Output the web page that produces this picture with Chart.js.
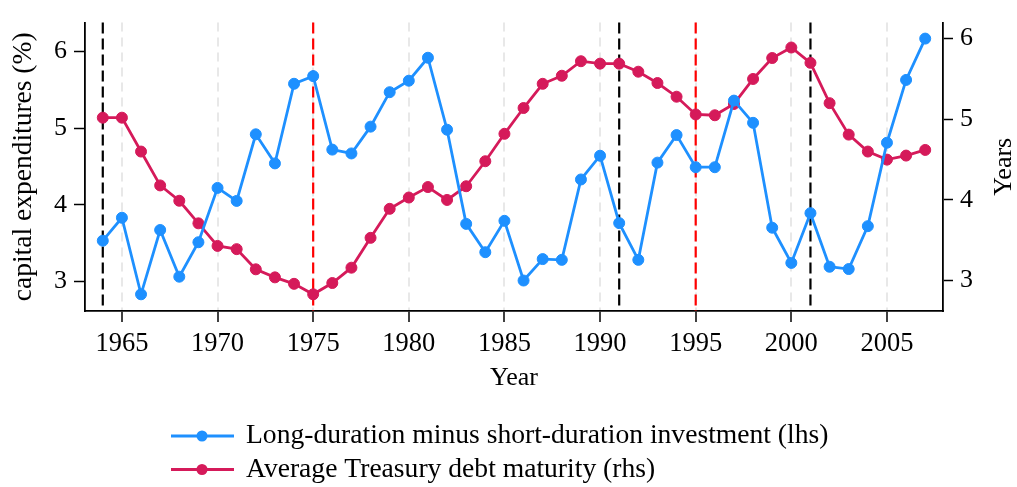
<!DOCTYPE html>
<html>
<head>
<meta charset="utf-8">
<title>Investment and Treasury debt maturity</title>
<script src="https://cdn.jsdelivr.net/npm/chart.js@4.4.1/dist/chart.umd.min.js"></script>
<style>
  html, body { margin: 0; padding: 0; background: #ffffff; }
  #wrap { width: 1017px; height: 487px; }
</style>
</head>
<body>
<div id="wrap"><canvas id="chart" width="1017" height="487"></canvas></div>
<script>
// Data
const years = [1964, 1965, 1966, 1967, 1968, 1969, 1970, 1971, 1972, 1973, 1974, 1975,
  1976, 1977, 1978, 1979, 1980, 1981, 1982, 1983, 1984, 1985, 1986, 1987, 1988, 1989,
  1990, 1991, 1992, 1993, 1994, 1995, 1996, 1997, 1998, 1999, 2000, 2001, 2002, 2003,
  2004, 2005, 2006, 2007];

const investGap = [3.53, 3.83, 2.83, 3.67, 3.06, 3.51, 4.22, 4.05, 4.92, 4.54, 5.58, 5.68,
  4.72, 4.67, 5.02, 5.47, 5.62, 5.92, 4.98, 3.75, 3.38, 3.79, 3.01, 3.29, 3.28, 4.33,
  4.64, 3.76, 3.28, 4.55, 4.91, 4.49, 4.49, 5.36, 5.07, 3.70, 3.24, 3.89, 3.19, 3.16,
  3.72, 4.81, 5.63, 6.17];

const debtMaturity = [5.02, 5.02, 4.60, 4.18, 3.99, 3.71, 3.43, 3.39, 3.14, 3.04, 2.96, 2.83,
  2.97, 3.16, 3.53, 3.89, 4.03, 4.16, 4.00, 4.17, 4.48, 4.82, 5.14, 5.44, 5.54, 5.72,
  5.69, 5.69, 5.59, 5.45, 5.28, 5.06, 5.05, 5.19, 5.50, 5.76, 5.89, 5.70, 5.20, 4.81,
  4.60, 4.50, 4.55, 4.62];

const xTicks = [1965, 1970, 1975, 1980, 1985, 1990, 1995, 2000, 2005];
const leftTicks = [3, 4, 5, 6];
const rightTicks = [3, 4, 5, 6];

const blackLines = [1964, 1991, 2001];
const redLines = [1975, 1995];

const seriesLabels = [
  'Long-duration minus short-duration investment (lhs)',
  'Average Treasury debt maturity (rhs)'
];

const BLUE = '#1e90ff';
const RED = '#d51a5a';
const SERIF = '"Liberation Serif", "DejaVu Serif", serif';

// vertical dashed marker lines, drawn under the data
const markerLines = {
  id: 'markerLines',
  beforeDatasetsDraw(chart) {
    const { ctx, chartArea, scales } = chart;
    const draw = (list, color) => {
      list.forEach(yr => {
        const x = scales.x.getPixelForValue(yr);
        ctx.save();
        ctx.strokeStyle = color;
        ctx.lineWidth = 2.2;
        ctx.setLineDash([11, 5]);
        ctx.beginPath();
        ctx.moveTo(x, chartArea.top);
        ctx.lineTo(x, chartArea.bottom);
        ctx.stroke();
        ctx.restore();
      });
    };
    draw(blackLines, '#000000');
    draw(redLines, '#ff0000');
  }
};

// legend rows left aligned + right axis title reading upwards
const extras = {
  id: 'extras',
  afterDraw(chart) {
    const { ctx, chartArea } = chart;
    ctx.save();
    chart.data.datasets.forEach((ds, i) => {
      const y = 436 + i * 33.5;
      ctx.strokeStyle = ds.borderColor;
      ctx.lineWidth = 2.8;
      ctx.beginPath();
      ctx.moveTo(171, y);
      ctx.lineTo(234, y);
      ctx.stroke();
      ctx.fillStyle = ds.borderColor;
      ctx.beginPath();
      ctx.arc(202, y, 5.5, 0, Math.PI * 2);
      ctx.fill();
      ctx.fillStyle = '#000000';
      ctx.font = '27.6px ' + SERIF;
      ctx.textAlign = 'left';
      ctx.textBaseline = 'middle';
      ctx.fillText(ds.label, 246, y);
    });

    ctx.translate(1004, (chartArea.top + chartArea.bottom) / 2);
    ctx.rotate(-Math.PI / 2);
    ctx.fillStyle = '#000000';
    ctx.font = '26px ' + SERIF;
    ctx.textAlign = 'center';
    ctx.textBaseline = 'middle';
    ctx.fillText('Years', 0, 0);
    ctx.restore();
  }
};

const toPoints = vals => years.map((yr, i) => ({ x: yr, y: vals[i] }));

new Chart(document.getElementById('chart'), {
  type: 'line',
  data: {
    datasets: [
      {
        label: seriesLabels[0],
        data: toPoints(investGap),
        yAxisID: 'y',
        borderColor: BLUE,
        backgroundColor: BLUE,
        borderWidth: 2.8,
        pointRadius: 5.5,
        pointBorderWidth: 1,
        pointBackgroundColor: BLUE,
        pointBorderColor: BLUE,
        tension: 0
      },
      {
        label: seriesLabels[1],
        data: toPoints(debtMaturity),
        yAxisID: 'y1',
        borderColor: RED,
        backgroundColor: RED,
        borderWidth: 2.8,
        pointRadius: 5.5,
        pointBorderWidth: 1,
        pointBackgroundColor: RED,
        pointBorderColor: RED,
        tension: 0
      }
    ]
  },
  options: {
    responsive: false,
    animation: false,
    layout: { padding: { top: 13, left: 0, right: 0, bottom: 0 } },
    plugins: {
      legend: { display: false },
      tooltip: { enabled: false }
    },
    scales: {
      x: {
        type: 'linear',
        min: 1963.07,
        max: 2007.93,
        afterBuildTicks: s => { s.ticks = xTicks.map(v => ({ value: v })); },
        afterFit: s => { s.height = 176; },
        ticks: {
          callback: v => String(v),
          color: '#000000',
          font: { family: SERIF, size: 26.5 },
          padding: 6,
          maxRotation: 0,
          autoSkip: false
        },
        grid: {
          display: true,
          drawOnChartArea: true,
          drawTicks: true,
          color: '#e8e8e8',
          lineWidth: 2,
          tickLength: 11,
          tickColor: '#000000',
          tickWidth: 1.5
        },
        border: { display: true, color: '#000000', width: 1.8, dash: [9, 6] },
        title: {
          display: true,
          text: 'Year',
          color: '#000000',
          font: { family: SERIF, size: 26 },
          padding: { top: 0, bottom: 93 }
        }
      },
      y: {
        type: 'linear',
        position: 'left',
        min: 2.612,
        max: 6.379,
        afterBuildTicks: s => { s.ticks = leftTicks.map(v => ({ value: v })); },
        afterFit: s => { s.width = 85; },
        ticks: {
          color: '#000000',
          font: { family: SERIF, size: 26 },
          padding: 7
        },
        grid: {
          display: true,
          drawOnChartArea: false,
          drawTicks: true,
          tickLength: 11,
          tickColor: '#000000',
          tickWidth: 1.5
        },
        border: { display: true, color: '#000000', width: 1.8 },
        title: {
          display: true,
          text: 'capital expenditures (%)',
          color: '#000000',
          font: { family: SERIF, size: 27.5 },
          padding: { top: 7, bottom: 0 }
        }
      },
      y1: {
        type: 'linear',
        position: 'right',
        min: 2.623,
        max: 6.199,
        afterBuildTicks: s => { s.ticks = rightTicks.map(v => ({ value: v })); },
        afterFit: s => { s.width = 74; },
        ticks: {
          color: '#000000',
          font: { family: SERIF, size: 26 },
          padding: 7
        },
        grid: {
          display: true,
          drawOnChartArea: false,
          drawTicks: true,
          tickLength: 10,
          tickColor: '#000000',
          tickWidth: 1.5
        },
        border: { display: true, color: '#000000', width: 1.8 },
        title: { display: false }
      }
    }
  },
  plugins: [markerLines, extras]
});
</script>
</body>
</html>
